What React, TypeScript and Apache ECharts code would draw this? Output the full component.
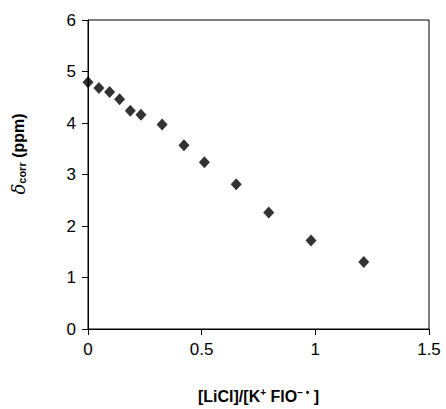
import React, { useEffect, useRef } from "react";
import * as echarts from "echarts";

const ratioValues = [0, 0.048, 0.095, 0.139, 0.186, 0.233, 0.326, 0.422, 0.512, 0.652, 0.795, 0.981, 1.213];
const deltaValues = [4.79, 4.68, 4.6, 4.46, 4.24, 4.16, 3.97, 3.57, 3.24, 2.81, 2.26, 1.72, 1.3];

export default function App() {
  const ref = useRef<HTMLDivElement>(null);
  useEffect(() => {
    if (!ref.current) return;
    const chart = echarts.init(ref.current, undefined, { renderer: "svg" });
    const font = "'Liberation Sans', Arial, sans-serif";
    chart.setOption({
      animation: false,
      backgroundColor: "#fff",
      grid: { left: 88, right: 17, top: 20, bottom: 79, show: true, borderColor: "#000", borderWidth: 1 },
      xAxis: {
        type: "value",
        min: 0,
        max: 1.5,
        interval: 0.5,
        axisLine: { show: true, lineStyle: { color: "#000", width: 1 } },
        axisTick: { show: true, inside: false, length: 6, lineStyle: { color: "#000" } },
        axisLabel: { color: "#000", fontSize: 17, fontFamily: font, margin: 12 },
        splitLine: { show: false },
        name: "{n|[LiCl]/[K}{s|+}{n| FlO}{s|− •}{n| ]}",
        nameLocation: "middle",
        nameGap: 58,
        nameTextStyle: {
          rich: {
            n: { fontSize: 16, fontWeight: "bold", fontFamily: font, color: "#000" },
            s: { fontSize: 10, fontWeight: "bold", fontFamily: font, color: "#000", verticalAlign: "top", padding: [0, 0, 8, 0] },
          },
        },
      },
      yAxis: {
        type: "value",
        min: 0,
        max: 6,
        interval: 1,
        axisLine: { show: true, lineStyle: { color: "#000", width: 1 } },
        axisTick: { show: true, inside: false, length: 6, lineStyle: { color: "#000" } },
        axisLabel: { color: "#000", fontSize: 17, fontFamily: font, margin: 12 },
        splitLine: { show: false },
      },
      graphic: [
        {
          type: "text",
          x: 18,
          y: 154,
          rotation: Math.PI / 2,
          style: {
            text: "{d|δ}{c|corr}{p| (ppm)}",
            align: "center",
            verticalAlign: "middle",
            rich: {
              d: { fontSize: 18, fontStyle: "italic", fontFamily: "'DejaVu Serif', serif", fill: "#000" },
              c: { fontSize: 11, fontWeight: "bold", fontFamily: font, fill: "#000", padding: [8, 0, 0, 0] },
              p: { fontSize: 16, fontWeight: "bold", fontFamily: font, fill: "#000" },
            },
          },
        },
      ],
      series: [
        {
          type: "scatter",
          data: ratioValues.map((x, i) => [x, deltaValues[i]]),
          symbol: "diamond",
          symbolSize: [11, 12],
          itemStyle: { color: "#000" },
        },
      ],
    });
    return () => chart.dispose();
  }, []);
  return <div ref={ref} style={{ width: 446, height: 409, position: "absolute", left: 0, top: 0 }} />;
}
